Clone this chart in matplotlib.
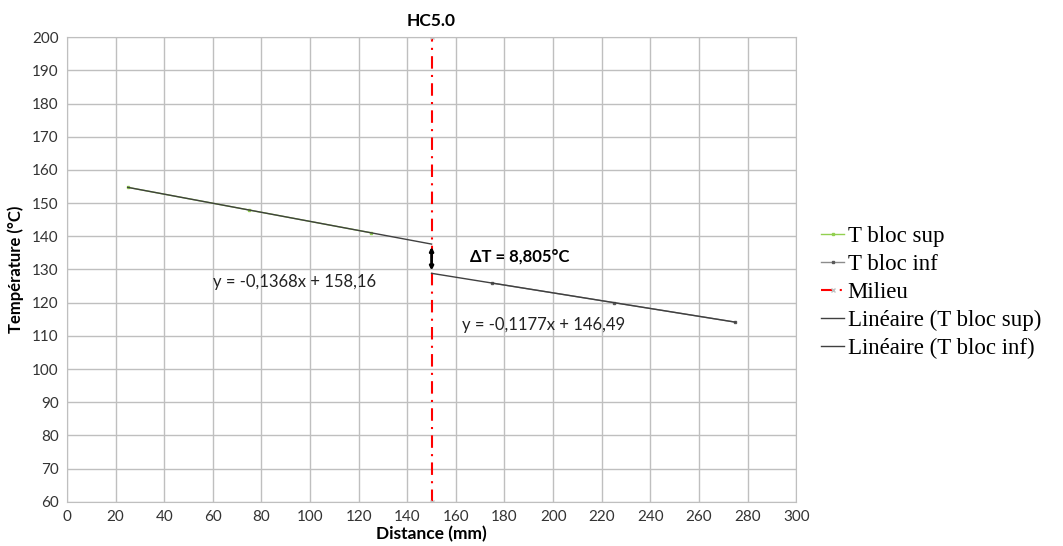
import numpy as np
import matplotlib
matplotlib.use("Agg")
import matplotlib.pyplot as plt

# Data
x_sup = [25, 75, 125]
t_sup = [154.74, 147.90, 141.06]
x_inf = [175, 225, 275]
t_inf = [125.89, 120.00, 114.12]
x_mid = [150, 150]
t_mid = [60, 200]
eq_sup = "y = -0,1368x + 158,16"
eq_inf = "y = -0,1177x + 146,49"
delta_label = "ΔT = 8,805°C"
title = "HC5.0"
x_ticks = list(range(0, 301, 20))
y_ticks = list(range(60, 201, 10))

plt.rcParams['font.family'] = ['Lato', 'DejaVu Sans']

fig = plt.figure(figsize=(10.63, 5.46), dpi=100)
ax = fig.add_axes([0.063, 0.081, 0.686, 0.851])

# trendlines
p_sup = np.polyfit(x_sup, t_sup, 1)
p_inf = np.polyfit(x_inf, t_inf, 1)
xs_sup = np.array([x_sup[0], x_mid[0]])
xs_inf = np.array([x_mid[0], x_inf[-1]])
y_sup_end = np.polyval(p_sup, x_mid[0])
y_inf_start = np.polyval(p_inf, x_mid[0])

ax.plot(x_sup, t_sup, color='#92D050', lw=1.0, marker='s', ms=2, label='T bloc sup', zorder=4)
ax.plot(x_inf, t_inf, color='#8C8C8C', lw=1.0, marker='s', ms=2, mfc='#595959', mec='#595959', label='T bloc inf', zorder=4)
ax.plot(x_mid, t_mid, color='#FF0000', lw=1.5, ls=(0, (6, 3, 1, 3)), marker='x', ms=3, mec='#C0C0C0', label='Milieu', zorder=3)
ax.plot(xs_sup, np.polyval(p_sup, xs_sup), color='#404040', lw=1.0, label='Linéaire (T bloc sup)', zorder=5)
ax.plot(xs_inf, np.polyval(p_inf, xs_inf), color='#404040', lw=1.0, label='Linéaire (T bloc inf)', zorder=5)

# delta arrow
ax.annotate('', xy=(x_mid[0], y_inf_start), xytext=(x_mid[0], y_sup_end),
            arrowprops=dict(arrowstyle='<|-|>', color='black', lw=2.0, mutation_scale=5), zorder=6)

ax.text(60, 126.3, eq_sup, fontsize=12, ha='left', va='center', color='#222222')
ax.text(162.5, 113.3, eq_inf, fontsize=12, ha='left', va='center', color='#222222')
ax.text(166, 133.8, delta_label, fontsize=12, fontweight='bold', ha='left', va='center')

ax.set_xlim(0, 300)
ax.set_ylim(60, 200)
ax.set_xticks(x_ticks)
ax.set_yticks(y_ticks)
ax.tick_params(labelsize=11, length=0, colors='#333333', pad=6)
ax.grid(True, color='#BFBFBF', lw=1.0)
ax.set_axisbelow(True)
for s in ax.spines.values():
    s.set_color('#BFBFBF')
ax.set_xlabel('Distance (mm)', fontsize=12.5, fontweight='bold', labelpad=1)
ax.set_ylabel('Température (°C)', fontsize=12, fontweight='bold', labelpad=6)
ax.set_title(title, fontsize=12.5, fontweight='bold', pad=8)

leg = ax.legend(loc='center left', bbox_to_anchor=(1.0, 0.45), frameon=False,
                prop={'family': 'Liberation Serif', 'size': 16.5}, handlelength=1.0,
                handletextpad=0.15, labelspacing=0.3, borderaxespad=0.9, borderpad=0.2)

fig.savefig('out.png', dpi=100)
